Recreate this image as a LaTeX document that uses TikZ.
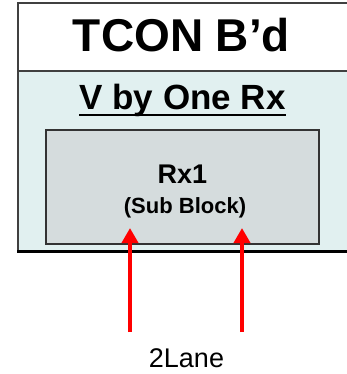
\documentclass[tikz,border=0pt]{standalone}
\usepackage{fontspec}
\setmainfont{Liberation Sans}
\usetikzlibrary{positioning,arrows.meta,calc}
\definecolor{rxbody}{HTML}{E1F0F0}
\definecolor{subblock}{HTML}{D5DCDD}

\begin{document}
\begin{tikzpicture}[
    x=1pt, y=-1pt,
    >=Stealth,
    box/.style={draw=black!75, line width=1.2pt, minimum width=334pt, inner sep=0pt},
    txt/.style={anchor=base, inner sep=0pt, text=black},
    lane/.style={-{Triangle[length=15pt,width=16pt]}, line width=3.8pt, red},
  ]
    \useasboundingbox (0,0) rectangle (347,374);
    % outer board, header and receiver part
    \node[box, fill=rxbody, minimum height=181pt] (body) at (185,161.5) {};
    \draw[line width=3pt, black] ($(body.south west)+(0,-1)$) -- ($(body.south east)+(0,-1)$);
    \node[box, fill=white, minimum height=68pt] (head) at (185,37) {};
    \node[txt, font=\fontsize{46}{46}\selectfont\bfseries] (tcon) at (181.5,52) {TCON B’d};
    \node[txt, font=\fontsize{35}{35}\selectfont\bfseries] (vbo) at (182.5,110) {V by One Rx};
    \draw[line width=1.8pt] ([yshift=-5pt]vbo.base west) -- ([yshift=-5pt]vbo.base east);
    % sub block
    \node[draw=black!80, line width=1.2pt, fill=subblock, minimum width=273pt, minimum height=114pt] (rx) at (182.5,187) {};
    \node[txt, font=\fontsize{27}{27}\selectfont\bfseries] (rxname) at (182.5,183) {Rx1};
    \node[txt, font=\fontsize{22}{22}\selectfont\bfseries] (rxsub) at (185,213) {(Sub Block)};
    % lanes
    \coordinate (in1) at (130,332);
    \coordinate (in2) at (242,332);
    \coordinate (tip1) at (130,228);
    \coordinate (tip2) at (242,228);
    \draw[lane] (in1) -- (tip1);
    \draw[lane] (in2) -- (tip2);
    \node[txt, font=\fontsize{27}{27}\selectfont] (lanes) at (186.5,367) {2Lane};
  \end{tikzpicture}
\end{document}
